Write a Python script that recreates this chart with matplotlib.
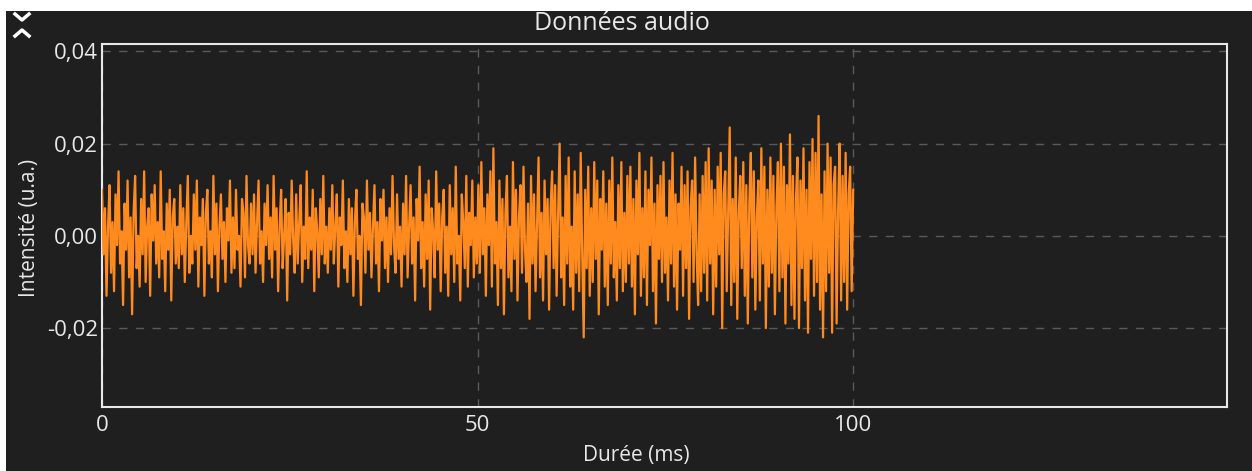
import matplotlib
matplotlib.use("Agg")
import matplotlib.pyplot as plt
import numpy as np
from matplotlib.lines import Line2D
from matplotlib.patches import Rectangle

# signal audio, en unites de 1e-4 (u.a.), 10 blocs de 10 ms
bloc_0 = [100, -40, 60, -130, 20, 110, -80, 30, -120, 90, -20, 140, -60, 10, -150, 70, -30, 120, -90, 40,
          -170, 50, 130, -70, 0, -110, 80, -40, 140, -100, 20, 60, -130, 90, -10, 110, -60, 30, -90, 140,
          -50, 10, -120, 70, -30, 100, -140, 40, 80, -60]
bloc_1 = [20, -70, 110, -40, 60, -100, 30, 130, -80, 0, -60, 90, -30, 120, -110, 40, -20, 80, -130, 50,
          100, -60, 10, -90, 130, -40, 70, -120, 20, 90, -50, 30, -100, 60, -10, 120, -80, 40, -70, 100,
          -30, 0, -110, 80, 50, -90, 130, -20, -60, 70]
bloc_2 = [-40, 90, -80, 30, 120, -60, 10, -100, 70, -20, 110, -50, 40, -90, 130, -30, 60, -120, 20, 100,
          -70, 0, 80, -140, 50, -40, 120, -10, -80, 90, -60, 30, 110, -100, 20, -50, 140, -70, 40, -30,
          100, -120, 60, 10, -90, 80, -40, 130, -60, 20]
bloc_3 = [-80, 60, -30, 110, -60, 20, 90, -110, 40, -20, 120, -70, 10, -100, 80, -40, 60, -130, 30, 100,
          -50, 0, -150, 70, 40, -80, 120, -30, 50, -90, 20, 110, -60, 30, -120, 80, -10, 100, -70, 40,
          -100, 60, -40, 130, -20, -80, 90, -50, 20, -110]
bloc_4 = [70, -40, 130, -90, 20, 110, -60, 40, -140, 80, -10, 150, -70, 30, -110, 90, -50, 120, -160, 60,
          10, -90, 140, -30, 70, -120, 40, 100, -80, 20, -130, 110, -40, 60, -100, 150, -60, 0, -140, 90,
          30, -70, 130, -110, 50, -20, 120, -90, 40, -60]
bloc_5 = [110, -80, 160, -40, 60, -130, 90, -20, 140, -110, 190, -60, 30, -150, 120, -70, 80, -170, 50, 130,
          -90, 20, -120, 160, -50, 100, -140, 40, 110, -80, 150, -30, -100, 70, -180, 130, -60, 90, -120, 30,
          170, -90, 50, -140, 120, -40, 80, -160, 60, 140]
bloc_6 = [-70, 110, -130, 50, 200, -90, 40, -150, 130, -60, 170, -110, 20, -160, 140, -80, 90, -120, 180, -40,
          -220, 100, -70, 150, -130, 60, -100, 160, -50, 120, -170, 80, -30, 140, -110, 70, -150, 120, -60, 170,
          -90, 30, -140, 110, -70, 160, -120, 50, -100, 130]
bloc_7 = [-60, 150, -110, 80, -170, 120, -40, 180, -130, 60, -90, 140, -150, 100, -20, 170, -120, 70, -190, 110,
          -50, 130, -100, 160, -80, 40, -140, 120, -60, 180, -110, 90, -160, 70, -30, 150, -130, 110, -70, 140,
          -180, 60, 120, -100, 170, -40, -150, 90, -120, 130]
bloc_8 = [-80, 160, -140, 190, -60, 120, -170, 100, -110, 150, -40, 180, -200, 90, 140, -120, 60, 235, -150, 80,
          -100, 170, -180, 50, 130, -70, 160, -130, 110, -190, 70, 180, -90, 140, -160, 40, 120, -140, 190, -60,
          150, -200, 100, -110, 170, -80, 130, -170, 60, 160]
bloc_9 = [-120, 200, -90, 150, -190, 110, -60, 220, -150, 130, -180, 80, 170, -200, 120, -70, 190, -140, 100, -210,
          160, -50, 210, -130, 180, -100, 260, -160, 90, -220, 140, -120, 200, -80, 170, -210, 110, 150, -190, 60,
          200, -140, 130, -100, 180, -160, 90, 150, -120, 100]

duree_totale = 100  # ms
x_ticks = [0, 50, 100]
y_ticks = [-0.02, 0.0, 0.02, 0.04]

fond = "#1f1f1f"
orange = "#ff8a1e"
blanc = "#e8e8e8"

signal = np.array(bloc_0 + bloc_1 + bloc_2 + bloc_3 + bloc_4 + bloc_5 + bloc_6 + bloc_7 + bloc_8 + bloc_9) * 1e-4
temps = np.linspace(0, duree_totale, len(signal))

plt.rcParams['font.family'] = ['Open Sans', 'DejaVu Sans']

fig = plt.figure(figsize=(12.52, 4.71), dpi=100, facecolor="white")
# fond sombre (bande blanche en haut et a gauche)
fig.patches.append(Rectangle((6 / 1252, 0), 1 - 6 / 1252, 1 - 11 / 471, transform=fig.transFigure,
                             facecolor=fond, edgecolor="none", zorder=-10))

ax = fig.add_axes([102 / 1252, 64 / 471, 1124.5 / 1252, 363 / 471])
ax.set_facecolor(fond)
ax.plot(temps, signal, color=orange, linewidth=1.6, zorder=3)

ax.set_xlim(0, 149.7)
ax.set_ylim(-0.0371, 0.0416)
ax.set_xticks(x_ticks)
ax.set_yticks(y_ticks)
ax.set_xticklabels([str(t) for t in x_ticks])
ax.set_yticklabels([("%.2f" % t).replace(".", ",") for t in y_ticks])
ax.tick_params(length=0, labelsize=16, colors=blanc)
ax.tick_params(axis="y", pad=3)
ax.tick_params(axis="x", pad=6)
ax.grid(True, color="#5a5a5a", linestyle=(0, (6, 6)), linewidth=1.0, zorder=1)
for s in ax.spines.values():
    s.set_color(blanc)
    s.set_linewidth(1.5)

fig.text(622 / 1252, 1 - 23 / 471, "Données audio", ha="center", va="center", fontsize=18, color=blanc)
fig.text(636 / 1252, 1 - 455 / 471, "Durée (ms)", ha="center", va="center", fontsize=15, color=blanc)
fig.text(30 / 1252, 1 - 228 / 471, "Intensité (u.a.)", ha="center", va="center", fontsize=15,
         color=blanc, rotation=90)

# chevrons en haut a gauche
fig.lines.append(Line2D([15 / 1252, 22 / 1252, 29 / 1252], [1 - 14 / 471, 1 - 20 / 471, 1 - 14 / 471],
                        transform=fig.transFigure, color="white", linewidth=2.5))
fig.lines.append(Line2D([15 / 1252, 22 / 1252, 29 / 1252], [1 - 36 / 471, 1 - 30 / 471, 1 - 36 / 471],
                        transform=fig.transFigure, color="white", linewidth=2.5))

fig.savefig("out.png", dpi=100, facecolor=fig.get_facecolor())
